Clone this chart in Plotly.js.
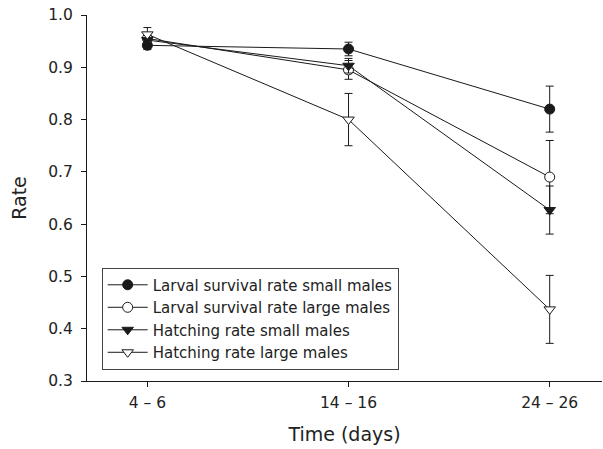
<!DOCTYPE html>
<html>
<head>
<meta charset="utf-8">
<script src="https://cdn.plot.ly/plotly-3.0.1.min.js"></script>
<style>html,body{margin:0;padding:0;background:#fff;}#chart{width:603px;height:449px;}</style>
</head>
<body>
<div id="chart"></div>
<script>
var categories = ["4 – 6", "14 – 16", "24 – 26"];
var seriesNames = ["Larval survival rate small males", "Larval survival rate large males", "Hatching rate small males", "Hatching rate large males"];
var larvalSmall = [0.942, 0.935, 0.820];
var larvalSmallErr = [0.008, 0.013, 0.044];
var larvalLarge = [0.955, 0.895, 0.690];
var larvalLargeErr = [0.010, 0.018, 0.070];
var hatchSmall = [0.952, 0.903, 0.627];
var hatchSmallErr = [0.012, 0.014, 0.046];
var hatchLarge = [0.963, 0.800, 0.437];
var hatchLargeErr = [0.013, 0.050, 0.065];
var yTicks = [0.3, 0.4, 0.5, 0.6, 0.7, 0.8, 0.9, 1.0];

var xs = categories.map(function(c, i){ return i; });
var ink = '#1a1a1a';
function tr(name, y, err, symbol, filled) {
  return {
    x: xs, y: y, name: name, type: 'scatter', mode: 'lines+markers',
    line: {color: ink, width: 1},
    marker: {symbol: symbol, size: 10, color: filled ? ink : '#fff',
             line: {color: ink, width: 1}},
    error_y: {type: 'data', array: err, visible: true, color: ink, thickness: 1, width: 4}
  };
}
var data = [
  tr(seriesNames[0], larvalSmall, larvalSmallErr, 'circle', true),
  tr(seriesNames[1], larvalLarge, larvalLargeErr, 'circle', false),
  tr(seriesNames[2], hatchSmall, hatchSmallErr, 'triangle-down', true),
  tr(seriesNames[3], hatchLarge, hatchLargeErr, 'triangle-down', false)
];

var font = 'DejaVu Sans, Liberation Sans, Arial, sans-serif';
var layout = {
  width: 603, height: 449,
  margin: {l: 87, r: 1, t: 15, b: 68},
  paper_bgcolor: '#fff', plot_bgcolor: '#fff',
  font: {family: font, color: '#222', size: 15},
  showlegend: true,
  legend: {x: 0.0285, y: 0.31, xanchor: 'left', yanchor: 'top',
           bordercolor: '#444', borderwidth: 1, bgcolor: '#fff',
           font: {family: font, size: 15, color: '#222'},
           tracegroupgap: 0, itemwidth: 40},
  xaxis: {
    range: [-0.3, 2.26], tickmode: 'array', tickvals: xs, ticktext: categories,
    showgrid: false, zeroline: false, showline: true, linecolor: ink, linewidth: 1,
    ticks: 'outside', ticklen: 5, tickcolor: ink, tickfont: {size: 15.5},
    ticklabelstandoff: 2,
    title: {text: 'Time (days)', font: {size: 19}, standoff: 17}
  },
  yaxis: {
    range: [0.3, 1.0], tickmode: 'array', tickvals: yTicks,
    ticktext: yTicks.map(function(v){ return v.toFixed(1); }),
    showgrid: false, zeroline: false, showline: true, linecolor: ink, linewidth: 1,
    ticks: 'outside', ticklen: 5, tickcolor: ink, tickfont: {size: 15.5},
    ticklabelstandoff: 5,
    title: {text: 'Rate', font: {size: 19}, standoff: 16}
  }
};
Plotly.newPlot('chart', data, layout, {displayModeBar: false, staticPlot: true});
</script>
</body>
</html>
